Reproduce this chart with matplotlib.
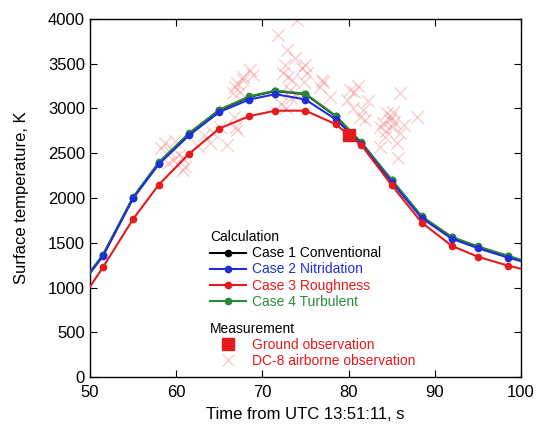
import numpy as np
import matplotlib.pyplot as plt
from matplotlib.lines import Line2D

plt.rcParams['font.family'] = ['Liberation Sans', 'DejaVu Sans']

# calculated surface temperature (line end points at 50 s and 100 s carry no marker)
t_calc = [50, 51.5, 55, 58, 61.5, 65, 68.5, 71.5, 75, 78.5, 81.5, 85, 88.5, 92, 95, 98.5, 100]
case1 = [1170, 1360, 2005, 2395, 2720, 2980, 3130, 3195, 3160, 2915, 2615, 2200, 1790, 1560, 1455, 1350, 1305]
case2 = [1160, 1350, 1995, 2380, 2700, 2960, 3100, 3160, 3100, 2880, 2600, 2180, 1775, 1545, 1440, 1335, 1295]
case3 = [1010, 1225, 1765, 2150, 2495, 2775, 2915, 2975, 2975, 2825, 2590, 2145, 1725, 1465, 1345, 1245, 1210]
case4 = [1175, 1365, 2010, 2400, 2725, 2985, 3135, 3200, 3165, 2920, 2620, 2205, 1795, 1565, 1460, 1355, 1310]

# measurements
t_ground = [80.0]
T_ground = [2700]

t_dc8 = [58.7, 59.3, 59.0, 59.6, 60.8, 60.7, 63.9, 65.9, 67.1, 64.3, 65.1,
         58.2, 59.9, 60.3, 61.0, 62.5, 63.2,
         67.1, 67.7, 68.6, 68.9, 67.4, 66.6, 66.8, 67.7, 66.7, 67.0,
         71.8, 74.0, 72.9, 73.0, 72.4, 73.5, 74.9, 75.2, 74.6, 73.2, 72.0, 74.0,
         72.2, 72.8, 73.3, 74.8, 72.6, 73.8,
         76.9, 76.7, 77.8, 77.0, 80.2, 79.8, 80.5, 81.7, 81.3, 81.9, 80.6, 81.1, 82.3,
         86.0, 87.9, 84.5, 84.8, 85.0, 83.6, 84.2, 83.6, 85.6, 85.7, 84.0, 86.0,
         84.9, 85.3, 84.4, 85.2, 86.4]
T_dc8 = [2614, 2513, 2390, 2424, 2312, 2457, 2614, 2591, 2759, 2725, 2793,
         2560, 2640, 2480, 2350, 2580, 2700,
         3284, 3318, 3429, 3373, 3183, 3172, 3240, 3351, 2900, 2790,
         3820, 3988, 3653, 3351, 3396, 3318, 3485, 3396, 3452, 3206, 3172, 3150,
         3050, 3000, 3120, 3300, 3480, 3560,
         3318, 3240, 3128, 3295, 3206, 3094, 3005, 2982, 2904, 2871, 3180, 3250, 3080,
         3172, 2904, 2949, 2871, 2793, 2793, 2681, 2569, 2614, 2446, 2837, 2725,
         2900, 2850, 2750, 2960, 2820]

fig = plt.figure(figsize=(5.42, 4.30), dpi=100)
ax = fig.add_axes([0.166, 0.123, 0.795, 0.833])

ax.scatter(t_dc8, T_dc8, marker='x', s=80, color='#f07070', alpha=0.35, linewidths=1.0, zorder=1)

styles = [(case1, 'black'), (case4, '#2a8a3a'), (case2, '#1f2fd8'), (case3, '#e41a1c')]
for vals, col in styles:
    ax.plot(t_calc, vals, color=col, lw=1.5, marker='o', ms=4.5, markevery=slice(1, -1), zorder=3)

ax.plot(t_ground, T_ground, 's', color='#e41a1c', ms=8, zorder=4)

ax.set_xlim(50, 100)
ax.set_ylim(0, 4000)
ax.set_xticks(np.arange(50, 101, 10))
ax.set_yticks(np.arange(0, 4001, 500))
ax.tick_params(direction='in', top=True, right=True, length=5, labelsize=12)
ax.tick_params(axis='x', pad=6)
for s in ax.spines.values():
    s.set_linewidth(1.0)
ax.set_xlabel('Time from UTC 13:51:11, s', fontsize=12, labelpad=5)
ax.set_ylabel('Surface temperature, K', fontsize=12, labelpad=14)

# legends
calc_handles = [Line2D([], [], color='black', marker='o', ms=4.5, lw=1.5),
                Line2D([], [], color='#1f2fd8', marker='o', ms=4.5, lw=1.5),
                Line2D([], [], color='#e41a1c', marker='o', ms=4.5, lw=1.5),
                Line2D([], [], color='#2a8a3a', marker='o', ms=4.5, lw=1.5)]
calc_labels = ['Case 1 Conventional', 'Case 2 Nitridation', 'Case 3 Roughness', 'Case 4 Turbulent']
leg1 = ax.legend(calc_handles, calc_labels, title='Calculation', loc='upper left',
                 bbox_to_anchor=(0.256, 0.437), frameon=False, fontsize=10,
                 labelcolor=['black', '#1f2fd8', '#e41a1c', '#2a8a3a'],
                 alignment='left', handlelength=2.6, handletextpad=0.4,
                 labelspacing=0.15, borderpad=0.2, title_fontproperties={'size': 10})
ax.add_artist(leg1)

meas_handles = [Line2D([], [], color='#e41a1c', marker='s', ms=8, lw=0),
                Line2D([], [], color='#f07070', marker='x', ms=9, lw=0, alpha=0.35)]
leg2 = ax.legend(meas_handles, ['Ground observation', 'DC-8 airborne observation'],
                 title='Measurement', loc='upper left', bbox_to_anchor=(0.256, 0.182),
                 frameon=False, fontsize=10, labelcolor=['#e41a1c', '#e41a1c'],
                 alignment='left', handlelength=2.6, handletextpad=0.4,
                 labelspacing=0.15, borderpad=0.2, title_fontproperties={'size': 10})

fig.savefig('out.png', dpi=100)
